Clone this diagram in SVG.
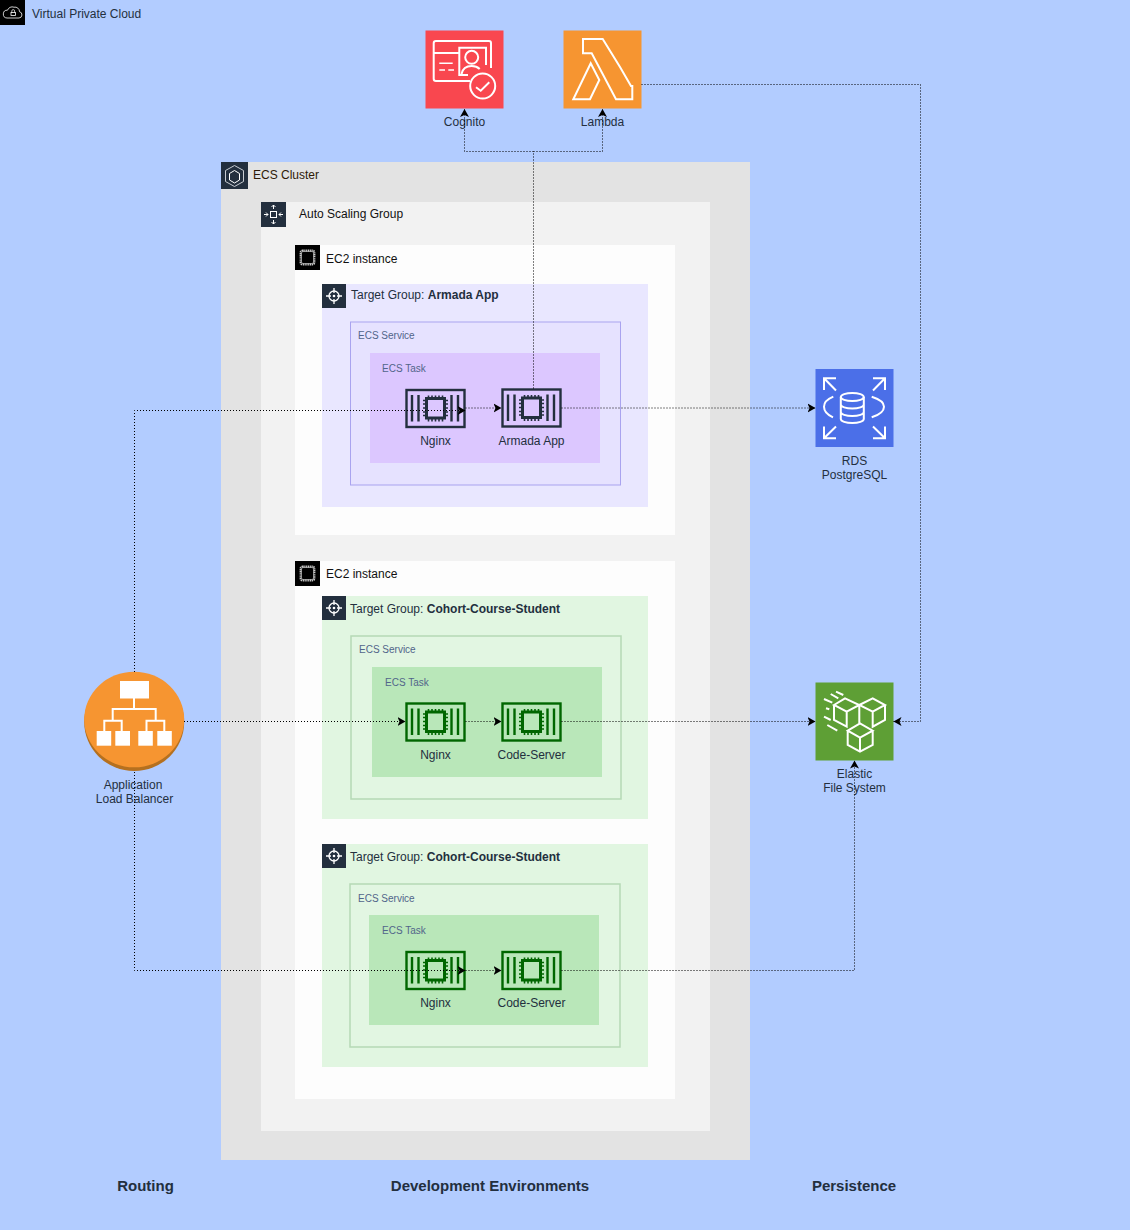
<svg xmlns="http://www.w3.org/2000/svg" width="1131" height="1231" viewBox="0 0 1131 1231">
<style>
text{font-family:"Liberation Sans",Arial,sans-serif;font-size:12px;fill:#232f3e}
.m{text-anchor:middle}
.small{font-size:10px;fill:#52658a}
.head{font-size:15px;font-weight:bold}
.conn{fill:none;stroke:#000;stroke-width:1;stroke-dasharray:1 2}
.ic{fill:none;stroke:#fff;stroke-width:2;stroke-linejoin:miter}
.tile{fill:#232f3e}
.tg{fill:#e1f6e1}.svc{fill:#e2f6e2;stroke:#b5d9b5;stroke-width:1.5}.task{fill:#b9e7b9}
</style>
<defs>
<marker id="arr" markerUnits="userSpaceOnUse" markerWidth="10" markerHeight="10" refX="8" refY="5" orient="auto">
<path d="M0,.5 L8,5 L0,9.500 L2,5 Z" fill="#000"/>
</marker>
<g id="task-icon" fill="none" stroke="currentColor" stroke-width="2.400">
<rect x="1" y="1" width="58" height="37"/>
<path d="M6.500,6V32.500M13,6V32.500M46,6V32.500M52.500,6V32.500"/>
<rect x="21" y="9.500" width="18" height="19.500" stroke-width="3"/>
<path stroke-width="1.600" d="M23,6.500V9M26.500,6.500V9M30,6.500V9M33.500,6.500V9M37,6.500V9M23,30V32.500M26.500,30V32.500M30,30V32.500M33.500,30V32.500M37,30V32.500M17.500,11.500H20M17.500,15H20M17.500,19H20M17.500,23H20M17.500,26.500H20M40,11.500H42.500M40,15H42.500M40,19H42.500M40,23H42.500M40,26.500H42.500"/>
</g>
<g id="tg-icon">
<rect width="24" height="24" class="tile"/>
<circle cx="12" cy="12" r="5" fill="none" stroke="#fff" stroke-width="1.300"/>
<circle cx="12" cy="12" r="1.300" fill="#fff"/>
<path d="M12,4V9M12,15V20M4,12H9M15,12H20" stroke="#fff" stroke-width="1.300" fill="none"/>
</g>
<g id="ec2-icon">
<rect width="25" height="25" fill="#000"/>
<rect x="5.500" y="5.500" width="14" height="14" rx="2" fill="none" stroke="#c9c9c9" stroke-width="1.800" stroke-dasharray="1.200 .6"/>
<rect x="6.500" y="6.500" width="12" height="12" rx="1.500" fill="none" stroke="#fff" stroke-width=".5"/>
</g>
</defs>

<g id="vpc">
<rect x="0" y="0" width="1130" height="1230" fill="#b2ccff"/>
<rect x="0" y="0" width="25" height="25" fill="#000"/>
<path d="M7,18H19a3.200,3.200 0 0 0 .5,-6.300a4.500,4.500 0 0 0 -5.500,-4.500a5,5 0 0 0 -6.500,3a3.800,3.800 0 0 0 -.5,7.800Z" fill="none" stroke="#fff" stroke-width=".8"/>
<rect x="11" y="12.500" width="4.500" height="3" fill="none" stroke="#fff" stroke-width=".8"/>
<path d="M11.800,12.500V11a1.400,1.400 0 0 1 2.800,0V12.500" fill="none" stroke="#fff" stroke-width=".7"/>
<text x="32" y="18">Virtual Private Cloud</text>
</g>

<g id="ecs-cluster">
<rect x="221" y="162" width="529" height="998" fill="#e3e3e3"/>
<rect x="221" y="162" width="27" height="27" class="tile"/>
<path d="M234.500,165.500l9,5v11l-9,5l-9,-5v-11Z" fill="none" stroke="#c8ccd2" stroke-width="1"/>
<path d="M234.500,170.500l5,3v6.500l-5,3l-5,-3v-6.500Z" fill="none" stroke="#fff" stroke-width="1"/>
<text x="253" y="179" style="fill:#2e1a08">ECS Cluster</text>
</g>

<g id="asg">
<rect x="261" y="202" width="449" height="929" fill="#f2f2f2"/>
<rect x="261" y="202" width="25" height="25" class="tile"/>
<rect x="270.500" y="211.500" width="6" height="6" fill="none" stroke="#fff" stroke-width="1"/>
<path d="M273.500,205V209M271.500,207l2,-2l2,2M273.500,224V220M271.500,222l2,2l2,-2M264,214.500H268M266,212.500l2,2l-2,2M283,214.500H279M281,212.500l-2,2l2,2" fill="none" stroke="#fff" stroke-width="1"/>
<text x="299" y="218" style="fill:#111">Auto Scaling Group</text>
</g>

<g id="ec2-a">
<rect x="295" y="245" width="380" height="290" fill="#fdfdfd"/>
<use href="#ec2-icon" x="295" y="245"/>
<text x="326" y="263" style="fill:#111">EC2 instance</text>
</g>
<g id="tg-armada">
<rect x="322" y="284" width="326" height="223" fill="#e9e7ff"/>
<use href="#tg-icon" x="322" y="284"/>
<text x="351" y="299">Target Group: <tspan font-weight="bold">Armada App</tspan></text>
</g>
<g id="svc-armada">
<rect x="350.500" y="322" width="270" height="163" fill="#e6e2ff" stroke="#a9a3ef" stroke-width="1"/>
<text x="358" y="339" class="small">ECS Service</text>
</g>
<g id="task-armada">
<rect x="370" y="353" width="230" height="110" fill="#dcc7ff"/>
<text x="382" y="372" class="small">ECS Task</text>
</g>
<g id="nginx-a" color="#232f3e"><use href="#task-icon" x="405.500" y="389"/><text x="435.500" y="445" class="m">Nginx</text></g>
<g id="armada-app" color="#232f3e"><use href="#task-icon" x="501.500" y="388.500"/><text x="531.500" y="445" class="m">Armada App</text></g>

<g id="ec2-b">
<rect x="295" y="561" width="380" height="538" fill="#fdfdfd"/>
<use href="#ec2-icon" x="295" y="561"/>
<text x="326" y="578" style="fill:#111">EC2 instance</text>
</g>
<g id="tg-ccs-1">
<rect x="322" y="596" width="326" height="223" class="tg"/>
<use href="#tg-icon" x="322" y="596"/>
<text x="350" y="613">Target Group: <tspan font-weight="bold">Cohort-Course-Student</tspan></text>
</g>
<g id="svc-ccs-1">
<rect x="351" y="636" width="270" height="163" class="svc"/>
<text x="359" y="653" class="small">ECS Service</text>
</g>
<g id="task-ccs-1">
<rect x="372" y="667" width="230" height="110" class="task"/>
<text x="385" y="686" class="small">ECS Task</text>
</g>
<g id="nginx-b" color="#006600"><use href="#task-icon" x="405.500" y="702.500"/><text x="435.500" y="759" class="m">Nginx</text></g>
<g id="code-server-1" color="#006600"><use href="#task-icon" x="501.500" y="702.500"/><text x="531.500" y="759" class="m">Code-Server</text></g>

<g id="tg-ccs-2">
<rect x="322" y="844" width="326" height="223" class="tg"/>
<use href="#tg-icon" x="322" y="844"/>
<text x="350" y="861">Target Group: <tspan font-weight="bold">Cohort-Course-Student</tspan></text>
</g>
<g id="svc-ccs-2">
<rect x="350" y="884" width="270" height="163" class="svc"/>
<text x="358" y="902" class="small">ECS Service</text>
</g>
<g id="task-ccs-2">
<rect x="369" y="915" width="230" height="110" class="task"/>
<text x="382" y="934" class="small">ECS Task</text>
</g>
<g id="nginx-c" color="#006600"><use href="#task-icon" x="405.500" y="951"/><text x="435.500" y="1007" class="m">Nginx</text></g>
<g id="code-server-2" color="#006600"><use href="#task-icon" x="501.500" y="951"/><text x="531.500" y="1007" class="m">Code-Server</text></g>

<g id="cognito">
<rect x="425.500" y="30.500" width="78" height="78" fill="#f9474f"/>
<g class="ic">
<path d="M470,81H436a2.300,2.300 0 0 1 -2.300,-2.300V43.300A2.300,2.300 0 0 1 436,41H489a2,2 0 0 1 2,2V68"/>
<path d="M434,53H459.300"/>
<path d="M439.300,63.300H452.700M439.300,70H445M448.300,70H454" stroke-width="1.600"/>
<path d="M468,75H459.300V47.700H486V65"/>
<circle cx="471.700" cy="57.300" r="6.500"/>
<path d="M461.500,74c1,-5 5,-8 10.200,-8c3,0 6,1 8,3"/>
<circle cx="482.700" cy="86" r="12.500"/>
<path d="M476,87.300l4.700,3.400l8.600,-8.400"/>
</g>
<text x="464.500" y="126" class="m">Cognito</text>
</g>

<g id="lambda">
<rect x="563.500" y="30.500" width="78" height="78" fill="#f69531"/>
<path class="ic" d="M583,39H602.700L620,67L631,86H632.300V99.300H616L591.700,53.300H583Z"/>
<path class="ic" d="M590.700,63.300L599.300,80L590,99.300H573.300Z"/>
<text x="602.500" y="126" class="m">Lambda</text>
</g>

<g id="rds">
<rect x="815.500" y="369" width="78" height="78" fill="#4b6fe8"/>
<g class="ic">
<ellipse cx="852.300" cy="397" rx="11.500" ry="4"/>
<path d="M840.800,397V419a11.500,4 0 0 0 23,0V397M840.800,404.500a11.500,4 0 0 0 23,0M840.800,412a11.500,4 0 0 0 23,0"/>
<path d="M833.300,396.700c-6,2.500 -9.300,6 -9.300,10s3.300,8 9,10.600M871.700,396.700c8,2.500 12.300,6 12.300,10s-4.300,8 -12.300,10.600"/>
<path d="M836,378.300H824V390M824,378.300L836,390.500"/>
<path d="M873,378.300H885V390M885,378.300L873,390.500"/>
<path d="M836,438.300H824V426.500M824,438.300L836,426.500"/>
<path d="M873,438.300H885V426.500M885,438.300L873,426.500"/>
</g>
<text x="854.500" y="465" class="m">RDS</text>
<text x="854.500" y="479" class="m">PostgreSQL</text>
</g>

<g id="efs">
<rect x="815.500" y="682.500" width="78" height="78" fill="#5e9f35"/>
<g class="ic">
<path d="M834,705L845,698.300L859.300,705L846.700,711.700ZM834,705V720L846.700,726.700V711.700M859.300,705V723.300"/>
<path d="M859.300,705L872.700,698.300L885,705L872.700,711.700ZM885,705V720L872.700,726.700V711.700"/>
<path d="M847.700,730.700L860,723.300L872.700,730.700L860,737.700ZM847.700,730.700V745L860,751.700L872.700,745V730.700M860,737.700V751.700"/>
<path d="M824,699L832.300,702.700M830.700,694L838.300,698.300M836,691.700L843.300,695M826,708.300L829.300,709.300M824,716.700L830.700,720M827.300,725L837.300,730.700"/>
</g>
<text x="854.500" y="778" class="m">Elastic</text>
<text x="854.500" y="792" class="m">File System</text>
</g>

<g id="alb">
<ellipse cx="134.200" cy="722" rx="50" ry="49" fill="#b5701f"/>
<ellipse cx="134.200" cy="719.500" rx="50" ry="47.800" fill="#f69531"/>
<rect x="120" y="681" width="29" height="17.500" fill="#fff"/>
<path d="M134,698V709M112.700,720V709H155.700V720M104.300,731V720.700H121.700V731M146.500,731V720.700H164.300V731" fill="none" stroke="#fff" stroke-width="2"/>
<rect x="96.700" y="731" width="14.500" height="14.700" fill="#fff"/>
<rect x="115.300" y="731" width="14.700" height="14.700" fill="#fff"/>
<rect x="138.300" y="731" width="14.500" height="14.700" fill="#fff"/>
<rect x="157.300" y="731" width="14.500" height="14.700" fill="#fff"/>
<text x="133" y="789" class="m">Application</text>
<text x="134.500" y="803" class="m">Load Balancer</text>
</g>

<g id="connectors">
<path class="conn" marker-end="url(#arr)" d="M134.500,672V410.500H465.500"/>
<path class="conn" marker-end="url(#arr)" d="M465.500,408H501.500"/>
<path class="conn" marker-end="url(#arr)" d="M561.500,408H815.500"/>
<path class="conn" marker-end="url(#arr)" d="M533.500,388.500V151.500H464.500V109"/>
<path class="conn" marker-end="url(#arr)" d="M533.500,151.500H602.500V109"/>
<path class="conn" marker-end="url(#arr)" d="M641.500,84.500H920.500V721.500H893.500"/>
<path class="conn" marker-end="url(#arr)" d="M184,721.500H405.500"/>
<path class="conn" marker-end="url(#arr)" d="M465.500,721.500H501.500"/>
<path class="conn" marker-end="url(#arr)" d="M561.500,721.500H815.500"/>
<path class="conn" marker-end="url(#arr)" d="M134.500,772V970.500H465.500"/>
<path class="conn" marker-end="url(#arr)" d="M465.500,970.500H501.500"/>
<path class="conn" marker-end="url(#arr)" d="M561.500,970.500H854.500V760.500"/>
</g>

<g id="headings">
<text x="145.500" y="1191" class="m head">Routing</text>
<text x="490" y="1191" class="m head">Development Environments</text>
<text x="854" y="1191" class="m head">Persistence</text>
</g>
</svg>
